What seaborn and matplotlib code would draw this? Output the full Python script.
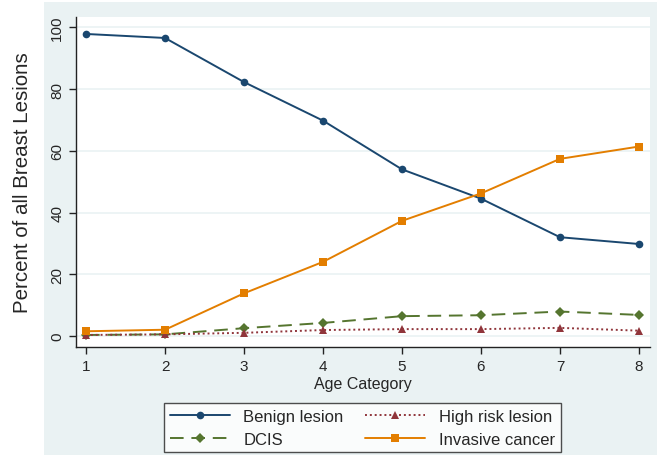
import matplotlib
matplotlib.use("Agg")
import matplotlib.pyplot as plt
import seaborn as sns
import pandas as pd
from matplotlib.patches import Rectangle

age = [1, 2, 3, 4, 5, 6, 7, 8]
benign = [97.9, 96.6, 82.3, 69.8, 54.0, 44.5, 32.0, 29.8]
high_risk = [0.3, 0.5, 1.0, 1.9, 2.2, 2.2, 2.6, 1.7]
dcis = [0.3, 0.5, 2.5, 4.2, 6.4, 6.7, 7.9, 6.8]
invasive = [1.5, 2.0, 13.8, 24.0, 37.3, 46.2, 57.4, 61.4]
series_names = ["Benign lesion", "DCIS", "High risk lesion", "Invasive cancer"]
y_ticks = [0, 20, 40, 60, 80, 100]

sns.set_theme(style="white")
plt.rcParams["font.family"] = ["Liberation Sans", "DejaVu Sans"]

fig = plt.figure(figsize=(6.57, 4.56), dpi=100)
fig.patch.set_facecolor("white")
bg = Rectangle((44 / 657, 0), 1 - 44 / 657, 1 - 3 / 456, transform=fig.transFigure,
               facecolor="#eaf2f3", edgecolor="none", zorder=-10)
fig.patches.append(bg)

ax = fig.add_axes([76 / 657, 1 - 348 / 456, (650 - 76) / 657, (348 - 18) / 456])
ax.set_zorder(5)
ax.set_facecolor("white")

styles = {
    "Benign lesion": dict(data=benign, color="#1a476f", marker="o", ls="-", ms=5.5),
    "DCIS": dict(data=dcis, color="#55752f", marker="D", ls=(0, (7, 4)), ms=5.5),
    "High risk lesion": dict(data=high_risk, color="#90353b", marker="^", ls=(0, (1, 1.5)), ms=6),
    "Invasive cancer": dict(data=invasive, color="#e37e00", marker="s", ls="-", ms=5.5),
}

for name in series_names:
    s = styles[name]
    df = pd.DataFrame({"x": age, "y": s["data"]})
    sns.lineplot(data=df, x="x", y="y", ax=ax, color=s["color"], marker=s["marker"],
                 linestyle=s["ls"], markersize=s["ms"], markeredgewidth=0,
                 linewidth=1.4, label=name, zorder=3)

ax.set_xlim(0.873, 8.14)
ax.set_ylim(-3.6, 103.4)
ax.set_xticks(age)
ax.set_yticks(y_ticks)
ax.set_yticklabels([str(t) for t in y_ticks], rotation=90, va="center")
ax.yaxis.grid(True, color="#eaf2f3", linewidth=1.2)
ax.xaxis.grid(False)
for sp in ["top", "right"]:
    ax.spines[sp].set_visible(False)
for sp in ["left", "bottom"]:
    ax.spines[sp].set_color("#222222")
    ax.spines[sp].set_linewidth(1.0)
ax.tick_params(axis="both", which="both", direction="out", length=5, width=1,
               color="#222222", labelsize=11, bottom=True, left=True)
ax.set_xlabel("Age Category", fontsize=11.5, labelpad=2)
ax.set_ylabel("Percent of all Breast Lesions", fontsize=14.8, labelpad=13)

leg = ax.legend(ncol=2, loc="upper center", bbox_to_anchor=(0.5 - 0.5 / 574, -0.145),
                frameon=True, fancybox=False, edgecolor="#222222", fontsize=12,
                handlelength=3.6, columnspacing=1.3, borderpad=0.35, labelspacing=0.45)
leg.get_frame().set_linewidth(1.0)

fig.savefig("out.png", dpi=100, facecolor=fig.get_facecolor())
